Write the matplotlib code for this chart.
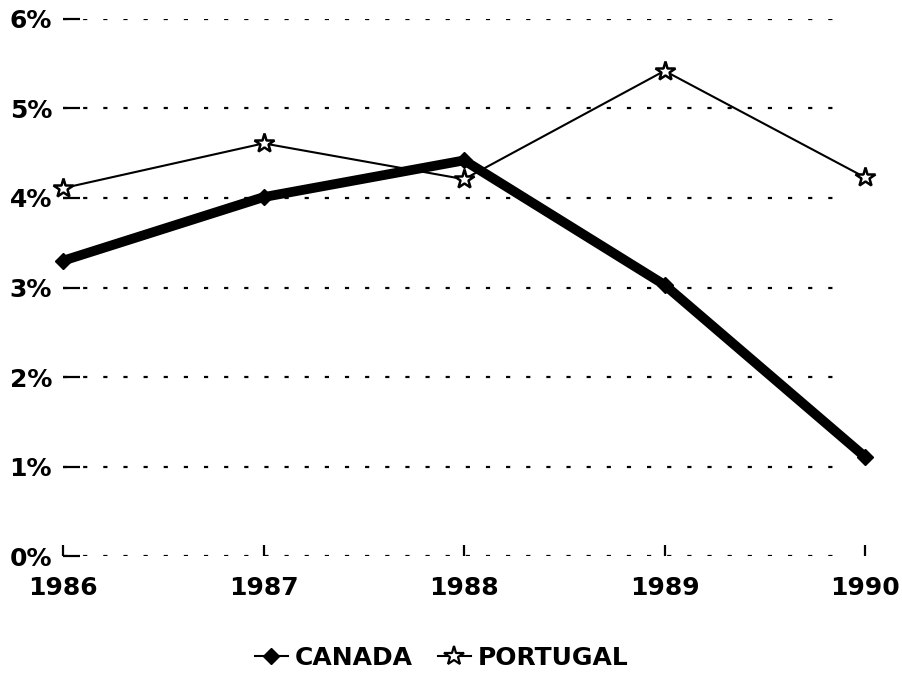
import matplotlib.pyplot as plt
from matplotlib.lines import Line2D

plt.rcParams["font.family"] = ["DejaVu Sans"]
plt.rcParams["font.weight"] = "bold"
plt.rcParams["lines.scale_dashes"] = False

years = [1986, 1987, 1988, 1989, 1990]
canada = [3.30, 4.01, 4.42, 3.03, 1.11]
portugal = [4.11, 4.61, 4.21, 5.42, 4.23]
y_ticks = [0, 1, 2, 3, 4, 5, 6]
y_labels = ["0%", "1%", "2%", "3%", "4%", "5%", "6%"]

fig = plt.figure(figsize=(9.02, 6.75), dpi=100)
ax = fig.add_axes([0.070, 0.176, 0.889, 0.796])

# dotted grid
for y in y_ticks:
    ax.axhline(y, xmax=0.97, color="black", lw=1.6, dashes=(3, 11.5), zorder=1)

ax.plot(years, portugal, color="black", lw=1.5, marker="*", markersize=15,
        markerfacecolor="white", markeredgecolor="black", markeredgewidth=1.8,
        zorder=3, clip_on=False)
ax.plot(years, canada, color="black", lw=7, marker="D", markersize=8,
        solid_capstyle="butt", zorder=4, clip_on=False)

ax.set_xlim(1986, 1990)
ax.set_ylim(0, 6)
ax.set_xticks(years)
ax.set_xticklabels([str(y) for y in years])
ax.set_yticks(y_ticks)
ax.set_yticklabels(y_labels)
for s in ax.spines.values():
    s.set_visible(False)
ax.tick_params(axis="y", direction="in", length=12, width=1.6, pad=8, labelsize=18)
ax.tick_params(axis="x", direction="in", length=8, width=1.6, pad=14, labelsize=18)

handles = [
    Line2D([], [], color="black", lw=1.5, marker="D", markersize=8),
    Line2D([], [], color="black", lw=1.5, marker="*", markersize=15,
           markerfacecolor="white", markeredgewidth=1.6),
]
fig.legend(handles, ["CANADA", "PORTUGAL"], loc="center", bbox_to_anchor=(0.49, 0.025),
           ncol=2, frameon=False, fontsize=18, handlelength=1.3, handletextpad=0.3,
           columnspacing=1.0)

fig.savefig("out.png", dpi=100)
